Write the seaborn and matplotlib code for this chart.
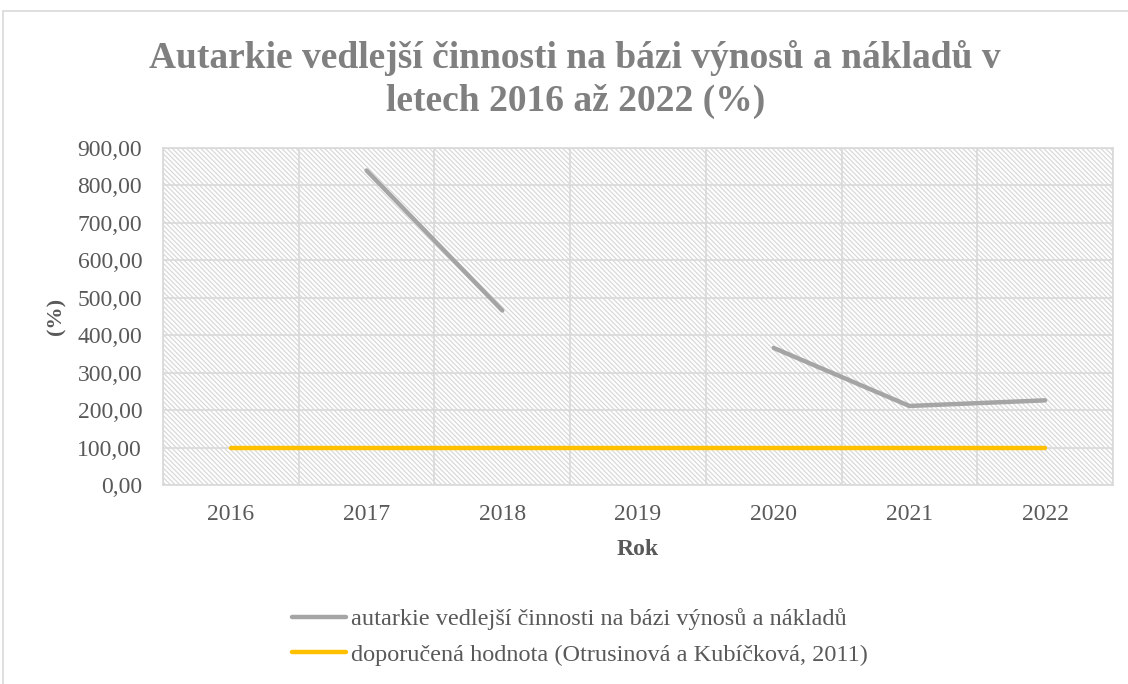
import numpy as np
import pandas as pd
import seaborn as sns
import matplotlib.pyplot as plt
from matplotlib.lines import Line2D
from matplotlib.ticker import FuncFormatter, MultipleLocator

years = [2016, 2017, 2018, 2019, 2020, 2021, 2022]
autarkie = [np.nan, 840.0, 466.0, np.nan, 366.0, 211.0, 226.0]
doporucena = [100.0, 100.0, 100.0, 100.0, 100.0, 100.0, 100.0]

lbl_aut = "autarkie vedlejší činnosti na bázi výnosů a nákladů"
lbl_dop = "doporučená hodnota (Otrusinová a Kubíčková, 2011)"

sns.set_style("white")
plt.rcParams["font.family"] = ["Liberation Serif", "DejaVu Serif"]
plt.rcParams["hatch.color"] = "#dcdcdc"
plt.rcParams["hatch.linewidth"] = 0.9

txt = "#595959"
grid_c = "#d9d9d9"

df = pd.DataFrame({"pos": range(len(years)), "aut": autarkie, "dop": doporucena})
# split the series into contiguous pieces so the gaps stay gaps
df["seg"] = df["aut"].isna().cumsum()
seg_df = df.dropna(subset=["aut"])

fig = plt.figure(figsize=(11.28, 6.84), dpi=100)
ax = fig.add_axes([0.1445, 0.291, 0.8422, 0.4926])

ax.patch.set_facecolor("white")
ax.patch.set_hatch("\\" * 7)
ax.patch.set_edgecolor(grid_c)

sns.lineplot(data=seg_df, x="pos", y="aut", units="seg", estimator=None,
             color="#a5a5a5", linewidth=3.2, ax=ax, legend=False)
sns.lineplot(data=df, x="pos", y="dop", color="#ffc000", linewidth=3.2,
             ax=ax, legend=False)

ax.set_xlim(-0.5, len(years) - 0.5)
ax.set_ylim(0, 900)
ax.yaxis.set_major_locator(MultipleLocator(100))
ax.yaxis.set_major_formatter(FuncFormatter(lambda v, p: f"{v:.2f}".replace(".", ",")))
ax.set_xticks(range(len(years)))
ax.set_xticklabels([str(y) for y in years])
ax.set_xticks(np.arange(-0.5, len(years), 1.0), minor=True)
ax.grid(True, which="major", axis="y", color=grid_c, linewidth=1.2)
ax.grid(True, which="minor", axis="x", color=grid_c, linewidth=1.2)
ax.tick_params(axis="both", which="both", length=0, labelsize=17, labelcolor=txt)
ax.tick_params(axis="x", pad=14)
ax.tick_params(axis="y", pad=15)
for s in ax.spines.values():
    s.set_color(grid_c)
    s.set_linewidth(1.2)

ax.set_xlabel("Rok", fontsize=17, fontweight="bold", color=txt, labelpad=10)
ax.set_ylabel("(%)", fontsize=16, fontweight="bold", color=txt, labelpad=8)

fig.text(0.51, 0.884, "Autarkie vedlejší činnosti na bázi výnosů a nákladů v\nletech 2016 až 2022 (%)",
         ha="center", va="center", fontsize=27, fontweight="bold", color="#808080",
         linespacing=1.3)

h1 = Line2D([], [], color="#a5a5a5", linewidth=3.2)
h2 = Line2D([], [], color="#ffc000", linewidth=3.2)
fig.legend([h1, h2], [lbl_aut, lbl_dop], loc="center", bbox_to_anchor=(0.514, 0.069),
           ncol=1, frameon=False, fontsize=17.5, labelcolor=txt, handlelength=2.2,
           handletextpad=0.2, labelspacing=0.55)

# chart frame (top and left edges only visible in the crop)
fig.add_artist(Line2D([0.003, 1.0], [1 - 11 / 684, 1 - 11 / 684], transform=fig.transFigure,
                      color=grid_c, linewidth=1.2))
fig.add_artist(Line2D([0.003, 0.003], [0.0, 1 - 11 / 684], transform=fig.transFigure,
                      color=grid_c, linewidth=1.2))

fig.savefig("out.png", dpi=100)
